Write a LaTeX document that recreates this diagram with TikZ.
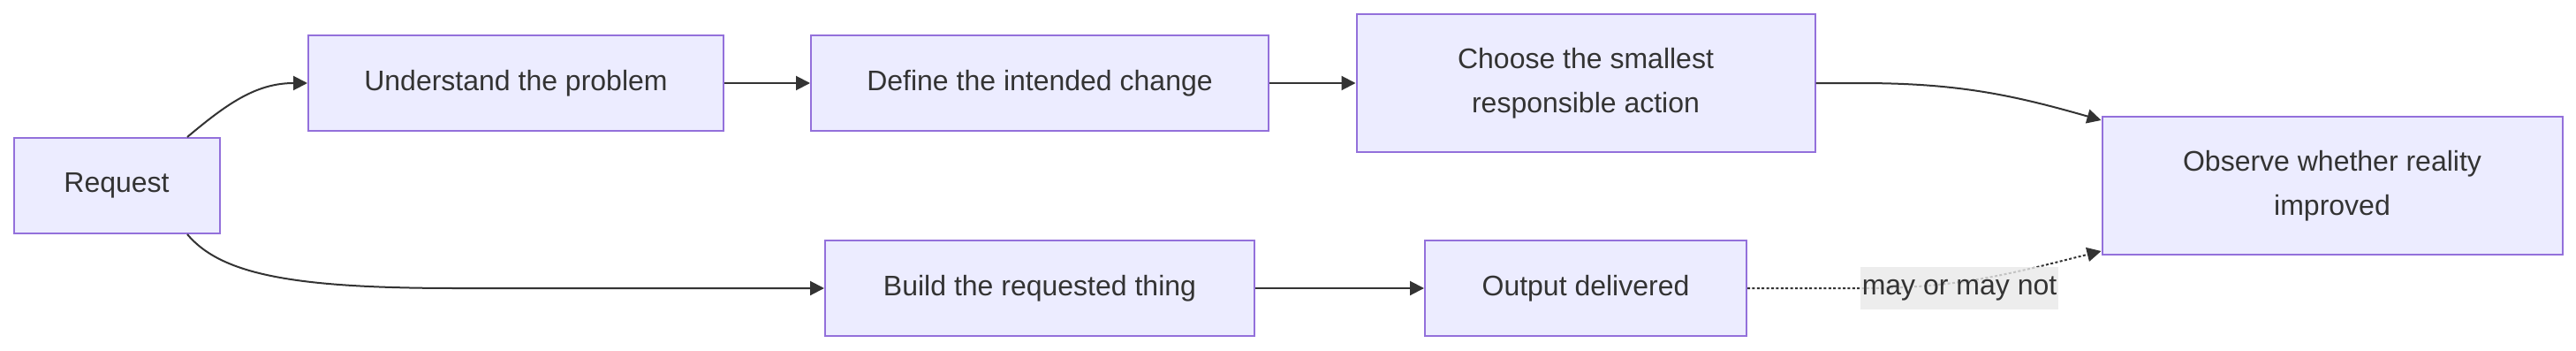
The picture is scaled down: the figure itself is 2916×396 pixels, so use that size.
\documentclass[tikz,border=0pt]{standalone}
\usepackage{fontspec}
\setmainfont{Liberation Sans}
\usetikzlibrary{arrows.meta}
\definecolor{nodefill}{HTML}{ECECFF}
\definecolor{nodeline}{HTML}{9370DB}
\definecolor{ink}{HTML}{333333}
\definecolor{labelbg}{HTML}{E8E8E8}

\begin{document}
\begin{tikzpicture}[x=0.5pt, y=0.5pt,
  stage/.style={rectangle, draw=nodeline, fill=nodefill, line width=1pt, text=ink,
                minimum height=54pt, inner sep=0pt, align=center,
                font=\fontsize{16}{25}\selectfont},
  flow/.style={draw=ink, line width=1pt, -{Triangle[length=8pt,width=8pt]}},
  edgelabel/.style={fill=labelbg, fill opacity=0.8, text opacity=1, text=ink,
                    minimum width=112pt, minimum height=24pt, inner sep=0pt,
                    font=\fontsize{16}{25}\selectfont},
]
  \useasboundingbox (0,0) rectangle (2916,-396);

  \node[stage, minimum width=116.5pt] (request) at (132,-210) {Request};
  \node[stage, minimum width=235pt] (understand) at (584,-94) {Understand the problem};
  \node[stage, minimum width=259pt] (define) at (1177,-94) {Define the intended change};
  \node[stage, minimum width=259.5pt, minimum height=78pt] (choose) at (1795,-94) {Choose the smallest\\responsible action};
  \node[stage, minimum width=260.5pt, minimum height=78pt] (observe) at (2640,-210) {Observe whether reality\\improved};
  \node[stage, minimum width=243pt] (build) at (1177,-326) {Build the requested thing};
  \node[stage, minimum width=182pt] (output) at (1795,-326) {Output delivered};

  \coordinate (lowbend) at (517,-326);
  \coordinate (highbend) at (2105,-94);
  \coordinate (dotbend) at (2110,-326);

  \draw[flow] ([xshift=40pt]request.north) to[out=40,in=180] (understand.west);
  \draw[flow] (understand) -- (define);
  \draw[flow] (define.east) -- (define.east -| choose.west);
  \draw[flow] (choose.east) -- (highbend) to[out=0,in=164] ([yshift=-2.5pt]observe.north west);
  \draw[flow] ([xshift=40pt]request.south) .. controls (250,-310) and (330,-326) .. (lowbend) -- (build.west);
  \draw[flow] (build) -- (output);
  \draw[flow, dash pattern=on 1.5pt off 1.2pt] (output.east) -- (dotbend) to[out=0,in=194] ([yshift=2.5pt]observe.south west);

  \node[edgelabel] (maylabel) at (2218,-326) {may or may not};
\end{tikzpicture}
\end{document}
